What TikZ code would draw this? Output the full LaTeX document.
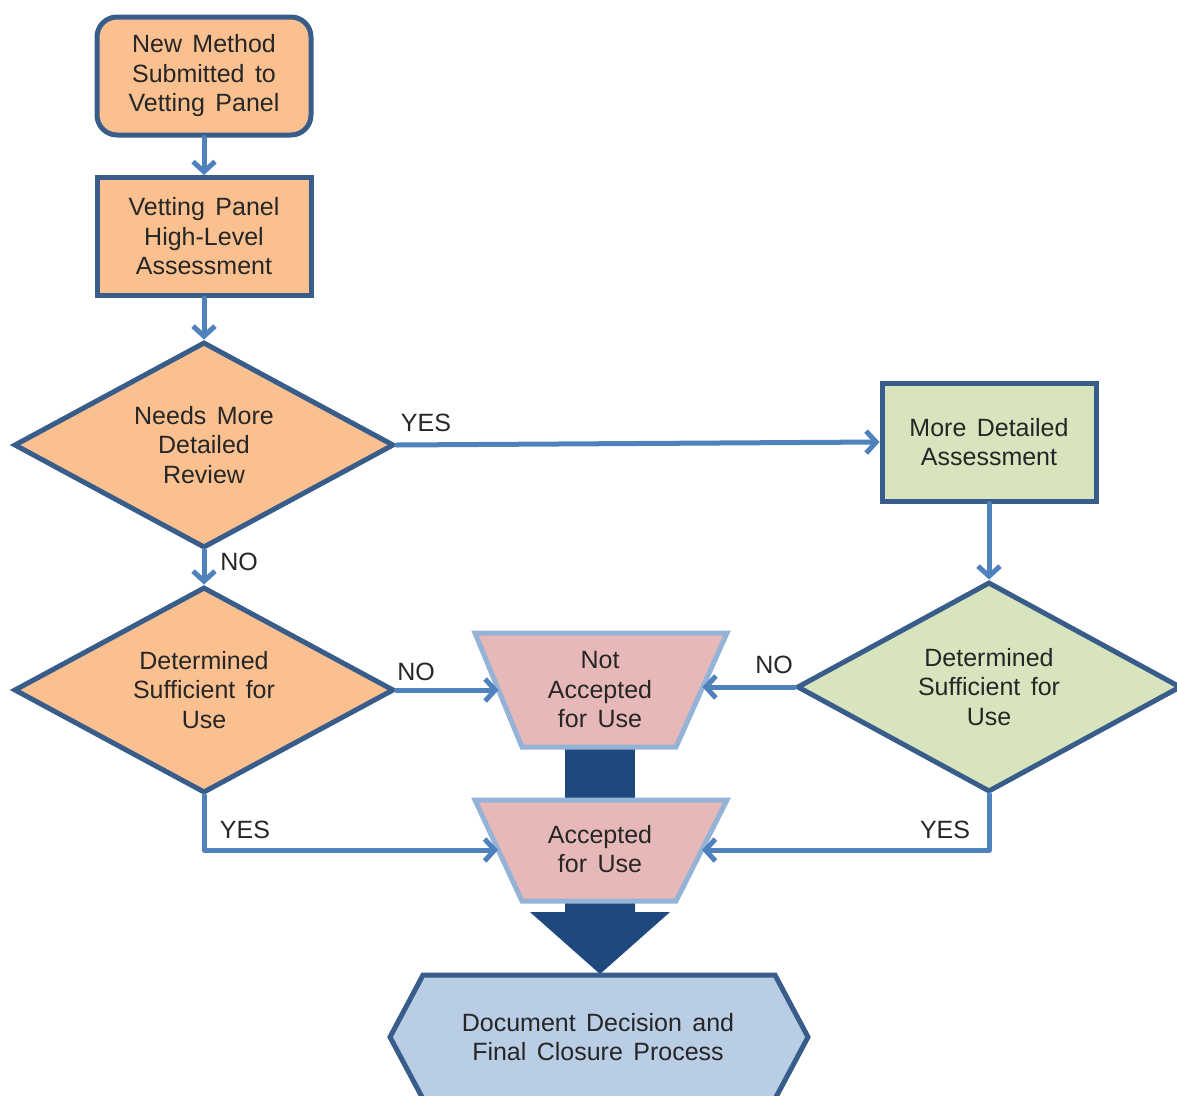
\documentclass[tikz,border=0pt]{standalone}
\usepackage{fontspec}
\setmainfont{Liberation Sans}[WordSpace=1.5]
\usetikzlibrary{shapes.geometric,arrows.meta}
\definecolor{peach}{HTML}{FAC090}
\definecolor{bord}{HTML}{385D8A}
\definecolor{sage}{HTML}{D7E4BD}
\definecolor{rose}{HTML}{E6B9B8}
\definecolor{trapbord}{HTML}{95B3D7}
\definecolor{navy}{HTML}{1F497D}
\definecolor{hexfill}{HTML}{B9CDE5}
\definecolor{conn}{HTML}{4F81BD}
\definecolor{txt}{HTML}{262626}
\begin{document}
\begin{tikzpicture}[x=1pt,y=-1pt,
  txtfont/.style={font=\fontsize{25}{29.5}\selectfont, text=txt, align=center},
  procbox/.style={rectangle, draw=bord, line width=5pt, fill=peach, minimum width=214pt, minimum height=118pt, inner sep=0pt, txtfont},
  roundbox/.style={procbox, rounded corners=20pt},
  greenbox/.style={procbox, fill=sage},
  decision/.style={diamond, aspect=2, draw=bord, line width=5pt, fill=peach, minimum width=380pt, minimum height=206pt, inner sep=0pt, txtfont},
  greendecision/.style={decision, fill=sage},
  trapshape/.style={draw=trapbord, line width=5pt, fill=rose, line join=miter},
  hexshape/.style={draw=bord, line width=5pt, fill=hexfill, line join=miter},
  plaintext/.style={inner sep=0pt, txtfont},
  lbl/.style={inner sep=0pt, font=\fontsize{25}{28}\selectfont, text=txt},
  connector/.style={draw=conn, line width=5pt, line cap=round, line join=round, -{Straight Barb[length=10pt,width=22pt]}},
  bigarrow/.style={fill=navy}
]
\useasboundingbox (0,0) rectangle (1177,1095);

% process boxes
\node[roundbox] (start) at (204,76) {New Method\\Submitted to\\Vetting Panel};
\node[procbox] (hl) at (204,236.5) {Vetting Panel\\High-Level\\Assessment};
\node[decision] (need) at (204,445) {Needs More\\Detailed\\Review};
\node[decision] (suf1) at (204,690) {Determined\\Sufficient for\\Use};
\node[greenbox] (more) at (989,442) {More Detailed\\Assessment};
\node[greendecision, minimum width=384pt, minimum height=210pt] (suf2) at (989,687) {Determined\\Sufficient for\\Use};

% dark connector block between the two outcomes
\fill[bigarrow] (565,744) rectangle (635,803);
\fill[bigarrow] (565,898) -- (565,912) -- (530,912) -- (600,974) -- (670,912) -- (635,912) -- (635,898) -- cycle;

% outcome trapezoids
\path[trapshape] (475,633) -- (727,633) -- (676,747) -- (522,747) -- cycle;
\node[plaintext] (notacc) at (600,690) {Not\\Accepted\\for Use};
\path[trapshape] (475,800) -- (727,800) -- (676,901) -- (522,901) -- cycle;
\node[plaintext] (acc) at (600,849) {Accepted\\for Use};

\coordinate (naW) at (498.5,690);
\coordinate (naE) at (702.5,687);
\coordinate (acW) at (498,850);
\coordinate (acE) at (702,850);

% final hexagon
\path[hexshape] (390,1037) -- (423,975) -- (775,975) -- (808,1037) -- (775,1099) -- (423,1099) -- cycle;
\node[plaintext] (doc) at (598,1037) {Document Decision and\\Final Closure Process};

% connectors
\draw[connector] (start.south) -- (hl.north);
\draw[connector] (hl.south) -- (need.north);
\draw[connector] (need.south) -- (suf1.north);
\draw[connector] (need.east) -- (more.west);
\draw[connector] (more.south) -- (suf2.north);
\draw[connector] (suf1.east) -- (naW);
\draw[connector] (suf2.west) -- (naE);
\draw[connector] (suf1.south) |- (acW);
\draw[connector] (suf2.south) |- (acE);

% labels
\node[lbl] (yes1) at (426,423) {YES};
\node[lbl] (no1) at (239,562) {NO};
\node[lbl] (no2) at (416,672) {NO};
\node[lbl] (no3) at (774,665) {NO};
\node[lbl] (yes2) at (245,830) {YES};
\node[lbl] (yes3) at (945,830) {YES};
\end{tikzpicture}
\end{document}
